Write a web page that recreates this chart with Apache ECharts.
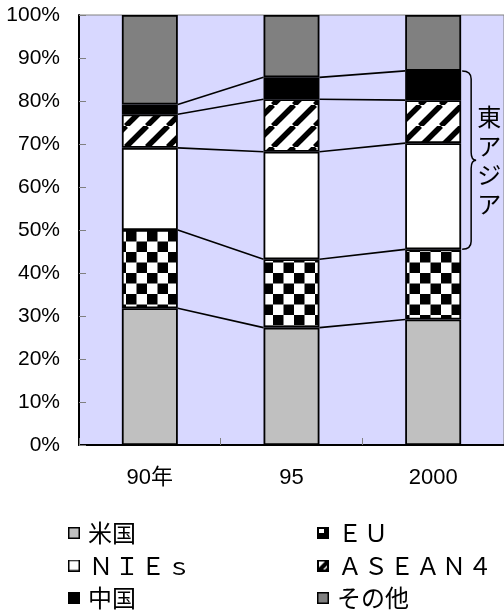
<!DOCTYPE html>
<html>
<head>
<meta charset="utf-8">
<script src="https://cdn.jsdelivr.net/npm/echarts@6/dist/echarts.min.js"></script>
<style>
  html, body { margin: 0; padding: 0; background: #fff; }
  #chart { width: 504px; height: 611px; }
</style>
</head>
<body>
<div id="chart"></div>
<script>
// Categories (years) and share of each region, bottom to top, in %
const categories = ['90年', '95', '2000'];
const usa    = [31.8, 27.3, 29.2];
const eu     = [18.2, 15.9, 16.3];
const nies   = [19.1, 25.0, 24.7];
const asean4 = [7.8, 12.2, 10.0];
const china  = [2.3, 5.1, 6.8];
const others = [20.8, 14.5, 13.0];
const yTicks = [0, 10, 20, 30, 40, 50, 60, 70, 80, 90, 100];
const regionLabel = '東アジア';

const FONT_LATIN = '"Liberation Sans", Arial, "Noto Sans CJK JP", sans-serif';
const FONT_JP = '"Noto Sans CJK JP", sans-serif';

// ---- fill patterns ----
function makeCanvas(w, h, draw) {
  const c = document.createElement('canvas');
  c.width = w; c.height = h;
  draw(c.getContext('2d'), w, h);
  return c;
}
const checker = makeCanvas(21, 21, (ctx, w, h) => {
  ctx.fillStyle = '#fff'; ctx.fillRect(0, 0, w, h);
  ctx.fillStyle = '#000';
  ctx.fillRect(0, 0, 10.5, 10.5);
  ctx.fillRect(10.5, 10.5, 10.5, 10.5);
});
const hatch = makeCanvas(21, 21, (ctx, w, h) => {
  ctx.fillStyle = '#fff'; ctx.fillRect(0, 0, w, h);
  ctx.strokeStyle = '#000'; ctx.lineWidth = 5.5;
  for (const x of [-21, 0, 21]) {
    ctx.beginPath(); ctx.moveTo(x, 21); ctx.lineTo(x + 21, 0); ctx.stroke();
  }
});

// ---- legend icons ----
function icon(draw) {
  const c = makeCanvas(12, 12, (ctx, w, h) => {
    draw(ctx, w, h);
    ctx.strokeStyle = '#000'; ctx.lineWidth = 1.5;
    ctx.strokeRect(0.75, 0.75, w - 1.5, h - 1.5);
  });
  return 'image://' + c.toDataURL();
}
const plain = col => icon((ctx, w, h) => { ctx.fillStyle = col; ctx.fillRect(0, 0, w, h); });
const iconEU = icon((ctx, w, h) => {
  ctx.fillStyle = '#000'; ctx.fillRect(0, 0, w, h);
  ctx.fillStyle = '#fff'; ctx.fillRect(2, 2, 5, 4);
});
const iconASEAN = icon((ctx, w, h) => {
  ctx.fillStyle = '#000'; ctx.fillRect(0, 0, w, h);
  ctx.fillStyle = '#fff';
  ctx.beginPath(); ctx.moveTo(2, 2); ctx.lineTo(8, 2); ctx.lineTo(2, 8); ctx.closePath(); ctx.fill();
  ctx.beginPath(); ctx.moveTo(10, 6); ctx.lineTo(10, 8); ctx.lineTo(8, 10); ctx.lineTo(6, 10); ctx.closePath(); ctx.fill();
});

const BAR_FRAC = 0.395;
const barBorder = { borderColor: '#000', borderWidth: 1.8 };

const layers = [
  { name: '米国',       data: usa,    color: '#C0C0C0', icon: plain('#C0C0C0') },
  { name: 'ＥＵ',       data: eu,     color: { image: checker, repeat: 'repeat' }, icon: iconEU },
  { name: 'ＮＩＥｓ',   data: nies,   color: '#FFFFFF', icon: plain('#FFFFFF') },
  { name: 'ＡＳＥＡＮ４', data: asean4, color: { image: hatch, repeat: 'repeat' }, icon: iconASEAN },
  { name: '中国',       data: china,  color: '#000000', icon: plain('#000000') },
  { name: 'その他',     data: others, color: '#808080', icon: plain('#808080') }
];

// cumulative tops of each layer per category
const cumTops = [];
layers.forEach((l, k) => {
  cumTops.push(l.data.map((v, i) => (k ? cumTops[k - 1][i] : 0) + v));
});

// connector segments between adjacent bars (all layer tops except the 100% top)
const linkData = [];
for (let k = 0; k < layers.length - 1; k++) {
  for (let i = 0; i < categories.length - 1; i++) {
    linkData.push([i, cumTops[k][i], cumTops[k][i + 1]]);
  }
}
const last = categories.length - 1;
// East Asia = NIEs + ASEAN4 + China
const braceData = [[last, cumTops[1][last], cumTops[4][last]]];

const barSeries = layers.map(l => ({
  name: l.name,
  type: 'bar',
  stack: 'share',
  barWidth: (BAR_FRAC * 100) + '%',
  data: l.data,
  itemStyle: Object.assign({ color: l.color }, barBorder),
  emphasis: { disabled: true },
  z: 3
}));

// full-width latin letters get a slightly wider cell each
const isWideLatin = ch => { const c = ch.charCodeAt(0); return c >= 0xFF01 && c <= 0xFF5E; };
const legendText = { fontSize: 24, lineHeight: 24, color: '#000', fontFamily: FONT_JP };
const legendCommon = {
  orient: 'vertical', top: 521, height: 120, padding: 0,
  itemWidth: 12, itemHeight: 12, itemGap: 8.5,
  selectedMode: false,
  formatter: name => name.split('').map(ch => isWideLatin(ch) ? `{w|${ch}}` : `{c|${ch}}`).join(''),
  textStyle: Object.assign({
    padding: [0, 0, 0, 3],
    rich: {
      w: Object.assign({ width: 26, align: 'center' }, legendText),
      c: Object.assign({}, legendText)
    }
  }, legendText)
};

const chart = echarts.init(document.getElementById('chart'), null, { renderer: 'canvas' });

chart.setOption({
  animation: false,
  backgroundColor: '#fff',
  grid: {
    left: 79, top: 15, width: 427, height: 430,
    show: true, backgroundColor: '#D8D8FF', borderColor: '#808080', borderWidth: 1
  },
  legend: [
    Object.assign({ left: 68, data: [0, 2, 4].map(k => ({ name: layers[k].name, icon: layers[k].icon })) }, legendCommon),
    Object.assign({ left: 317, data: [1, 3, 5].map(k => ({ name: layers[k].name, icon: layers[k].icon })) }, legendCommon)
  ],
  xAxis: {
    type: 'category',
    data: categories,
    boundaryGap: true,
    axisLine: { lineStyle: { color: '#000', width: 2 } },
    axisTick: { show: true, inside: true, length: 7, lineStyle: { color: '#808080', width: 1 } },
    axisLabel: { fontSize: 22, color: '#000', fontFamily: FONT_LATIN, margin: 22 },
    z: 10
  },
  yAxis: {
    type: 'value',
    min: yTicks[0], max: yTicks[yTicks.length - 1], interval: yTicks[1] - yTicks[0],
    axisLine: { show: true, lineStyle: { color: '#000', width: 2 } },
    axisTick: { show: true, inside: true, length: 7, lineStyle: { color: '#808080', width: 1 } },
    splitLine: { show: false },
    axisLabel: { fontSize: 21, color: '#000', fontFamily: FONT_LATIN, margin: 19, formatter: '{value}%' },
    z: 10
  },
  series: barSeries.concat([
    {
      type: 'custom',
      name: 'links',
      data: linkData,
      z: 4,
      silent: true,
      renderItem: (params, api) => {
        const i = api.value(0);
        const half = api.size([1, 0])[0] * BAR_FRAC / 2;
        const a = api.coord([i, api.value(1)]);
        const b = api.coord([i + 1, api.value(2)]);
        return {
          type: 'line',
          shape: { x1: a[0] + half, y1: a[1], x2: b[0] - half, y2: b[1] },
          style: { stroke: '#000', lineWidth: 1.6 }
        };
      }
    },
    {
      type: 'custom',
      name: 'brace',
      data: braceData,
      z: 4,
      silent: true,
      renderItem: (params, api) => {
        const i = api.value(0);
        const half = api.size([1, 0])[0] * BAR_FRAC / 2;
        const lo = api.coord([i, api.value(1)]);
        const hi = api.coord([i, api.value(2)]);
        const x0 = lo[0] + half + 1;
        const xv = x0 + 9;
        const tip = x0 + 14;
        const top = hi[1], bot = lo[1], mid = (top + bot) / 2;
        const r = 8;
        const d = `M${x0},${top} Q${xv},${top} ${xv},${top + r} L${xv},${mid - r} Q${xv},${mid} ${tip},${mid}` +
                  ` Q${xv},${mid} ${xv},${mid + r} L${xv},${bot - r} Q${xv},${bot} ${x0},${bot}`;
        return {
          type: 'group',
          children: [
            { type: 'path', shape: { pathData: d }, style: { fill: null, stroke: '#000', lineWidth: 1.5 } },
            {
              type: 'text',
              style: {
                text: regionLabel.split('').join('\n'),
                x: tip + 13, y: mid,
                align: 'center', verticalAlign: 'middle',
                fontSize: 24, lineHeight: 29, fontFamily: FONT_JP, fill: '#000'
              }
            }
          ]
        };
      }
    }
  ])
});
</script>
</body>
</html>
